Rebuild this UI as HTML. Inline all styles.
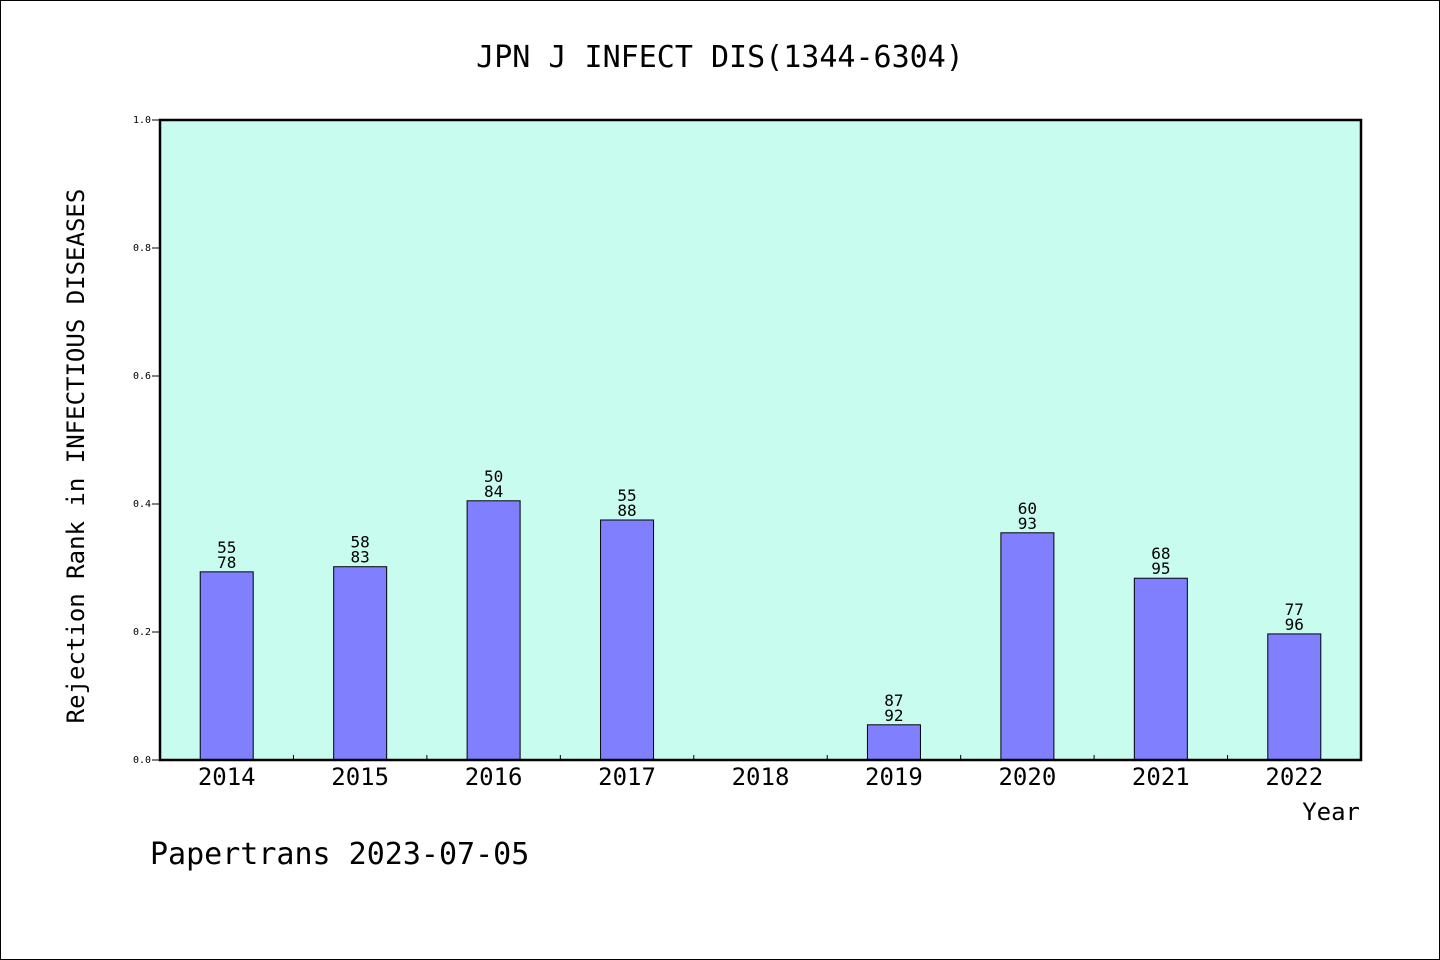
<!DOCTYPE html>
<html><head><meta charset="utf-8"><style>
html,body{margin:0;padding:0;background:#fff}
svg{display:block}
text{font-family:"WenQuanYi Zen Hei","DejaVu Sans Mono",monospace;fill:#000}
</style></head><body>
<svg id="chart" width="1440" height="960" xmlns="http://www.w3.org/2000/svg">
<rect x="0.5" y="0.5" width="1439" height="959" fill="#fff" stroke="#000"/>
<text x="720" y="67" font-size="30" text-anchor="middle">JPN J INFECT DIS(1344-6304)</text>
<rect x="160" y="120" width="1201" height="640" fill="#c8fcee"/>
<g id="bars"></g>
<rect x="160" y="120" width="1201" height="640" fill="none" stroke="#000" stroke-width="2.5"/>
<g id="axes"></g>
<text transform="translate(84,456) rotate(-90)" font-size="24" text-anchor="middle">Rejection Rank in INFECTIOUS DISEASES</text>
<text x="1360" y="820" font-size="24" text-anchor="end">Year</text>
<text x="150" y="864" font-size="30">Papertrans 2023-07-05</text>
</svg>
<script>
const categories=["2014","2015","2016","2017","2018","2019","2020","2021","2022"];
const values=[0.294,0.302,0.405,0.375,0,0.055,0.355,0.284,0.197];
const labelTop=["55","58","50","55","","87","60","68","77"];
const labelBottom=["78","83","84","88","","92","93","95","96"];
const yTicks=[0,0.2,0.4,0.6,0.8,1.0];
const yTickLabels=["0.0","0.2","0.4","0.6","0.8","1.0"];
const NS="http://www.w3.org/2000/svg";
const X0=160,X1=1361,Y0=760,Y1=120;
const band=(X1-X0)/categories.length;
const xC=i=>X0+band*(i+0.5);
const y=v=>Y0-(Y0-Y1)*v;
function mk(tag,attrs,parent){const e=document.createElementNS(NS,tag);for(const k in attrs)e.setAttribute(k,attrs[k]);parent.appendChild(e);return e;}
const gb=document.getElementById('bars'),ga=document.getElementById('axes');
categories.forEach((c,i)=>{
  if(values[i]>0){
    const r=mk('rect',{x:xC(i)-26.5,y:y(values[i]),width:53,height:Y0-y(values[i]),fill:'#8080ff',stroke:'#000','stroke-width':1},gb);
    
    
  }
  if(labelTop[i]){
    const t1=mk('text',{x:xC(i),y:y(values[i])-19,'font-size':16,'text-anchor':'middle'},gb);t1.textContent=labelTop[i];
    
    
    const t2=mk('text',{x:xC(i),y:y(values[i])-4,'font-size':16,'text-anchor':'middle'},gb);t2.textContent=labelBottom[i];
    
    
  }
  const xl=mk('text',{x:xC(i),y:785,'font-size':24,'text-anchor':'middle'},ga);xl.textContent=c;
  
  
  if(i>0){const tk=mk('line',{x1:X0+band*i,x2:X0+band*i,y1:Y0,y2:Y0-5,stroke:'#000'},ga);
    
    }
});
yTicks.forEach((v,i)=>{
  const tk=mk('line',{x1:X0-8,x2:X0,y1:y(v),y2:y(v),stroke:'#000'},ga);
  
  
  const t=mk('text',{x:151,y:y(v)+3,'font-size':10,'text-anchor':'end'},ga);t.textContent=yTickLabels[i];
  
  
});
</script>
</body></html>
